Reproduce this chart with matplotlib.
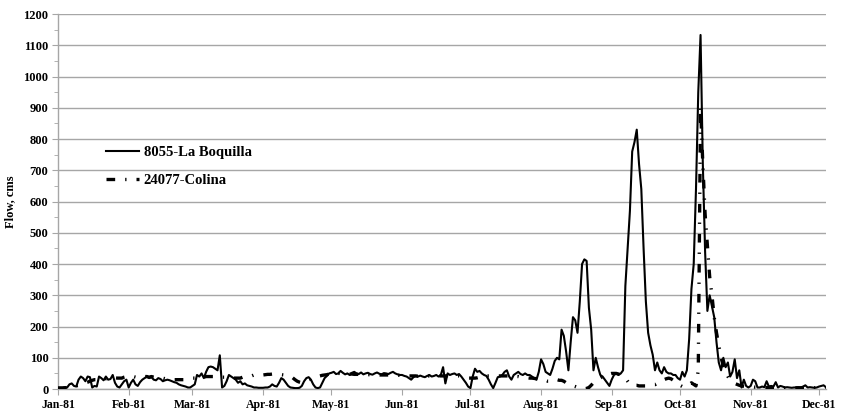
import numpy as np
import pandas as pd
import matplotlib
matplotlib.use('Agg')
import matplotlib.pyplot as plt
import matplotlib.dates as mdates
from matplotlib.ticker import MultipleLocator

# Caudal diario 1981 (cms), 1 ene - 4 dic
boquilla_jan = [5, 5, 5, 6, 5, 15, 18, 10, 8, 30, 40, 35, 25, 40, 38, 5, 10, 8, 40, 35,
                28, 40, 30, 32, 45, 20, 8, 5, 15, 25, 30]
boquilla_feb = [5, 20, 30, 15, 10, 22, 30, 35, 40, 35, 38, 30, 28, 35, 32, 25, 28, 30, 28, 25,
                22, 20, 15, 12, 10, 8, 5, 5]
boquilla_mar = [10, 15, 45, 40, 50, 35, 55, 70, 72, 70, 65, 60, 108, 5, 10, 25, 45, 40, 35, 30,
                20, 25, 15, 18, 12, 10, 8, 5, 5, 4, 4]
boquilla_apr = [4, 5, 5, 8, 15, 10, 8, 20, 35, 30, 20, 10, 5, 4, 3, 3, 4, 10, 25, 35,
                38, 30, 15, 5, 3, 5, 20, 35, 42, 50]
boquilla_may = [52, 55, 48, 50, 58, 52, 47, 50, 45, 52, 55, 50, 48, 53, 47, 50, 52, 48, 46, 50,
                53, 49, 47, 51, 50, 48, 52, 55, 50, 47, 45]
boquilla_jun = [45, 42, 40, 35, 30, 38, 42, 40, 43, 40, 38, 42, 45, 40, 42, 45, 40, 45, 70, 18,
                50, 45, 48, 50, 45, 48, 40, 30, 20, 8]
boquilla_jul = [3, 40, 65, 55, 58, 50, 45, 42, 30, 15, 3, 20, 38, 40, 45, 55, 60, 40, 30, 45,
                50, 55, 48, 45, 50, 45, 45, 40, 35, 30, 55]
boquilla_aug = [95, 80, 55, 50, 45, 65, 90, 100, 95, 190, 170, 120, 60, 150, 230, 220, 180, 280, 400, 415,
                410, 260, 190, 60, 100, 70, 45, 40, 30, 20, 10]
boquilla_sep = [30, 45, 50, 45, 50, 60, 330, 450, 570, 760, 790, 830, 720, 640, 450, 280, 180, 140, 110, 60,
                85, 60, 50, 70, 55, 50, 50, 45, 45, 35]
boquilla_oct = [30, 55, 40, 60, 160, 320, 400, 640, 950, 1133, 720, 440, 250, 300, 265, 230, 150, 85, 60, 100,
                70, 85, 40, 55, 95, 35, 60, 5, 30, 10, 5]
boquilla_nov = [10, 30, 25, 5, 5, 8, 6, 25, 8, 10, 8, 22, 5, 10, 8, 5, 6, 5, 4, 5,
                5, 6, 5, 8, 12, 5, 6, 5, 4, 5]
boquilla_dec = [8, 10, 12, 6]

colina_jan = [3, 3, 3, 4, 5, 5, 6, 8, 10, 12, 15, 18, 20, 22, 25, 28, 30, 30, 32, 35,
              35, 33, 35, 38, 38, 36, 35, 35, 35, 38, 40]
colina_feb = [40, 42, 40, 38, 40, 42, 42, 40, 40, 38, 40, 38, 36, 35, 35, 35, 33, 32, 32, 30,
              30, 30, 30, 30, 30, 30, 32, 33]
colina_mar = [35, 35, 35, 35, 38, 38, 40, 40, 40, 40, 38, 38, 38, 38, 38, 38, 38, 35, 35, 35,
              35, 35, 38, 40, 40, 42, 42, 45, 45, 45, 45]
colina_apr = [45, 46, 47, 47, 48, 48, 48, 47, 46, 45, 44, 42, 40, 36, 30, 25, 22, 20, 22, 25,
              30, 32, 35, 38, 40, 42, 44, 45, 46, 48]
colina_may = [48, 48, 50, 50, 50, 50, 50, 48, 48, 48, 47, 47, 47, 47, 47, 46, 46, 46, 46, 46,
              46, 45, 45, 45, 45, 45, 45, 44, 44, 44, 44]
colina_jun = [44, 43, 43, 42, 42, 42, 42, 41, 41, 41, 42, 42, 42, 42, 42, 42, 42, 42, 42, 42,
              43, 43, 43, 43, 42, 42, 40, 38, 36, 35]
colina_jul = [35, 35, 35, 36, 38, 40, 42, 42, 42, 42, 42, 42, 42, 42, 42, 42, 42, 42, 40, 40,
              40, 40, 38, 38, 38, 36, 35, 35, 34, 33, 32]
colina_aug = [30, 30, 28, 25, 25, 30, 30, 30, 28, 28, 25, 20, 18, 14, 10, 8, 5, 3, 2, 1,
              2, 5, 12, 20, 25, 30, 35, 40, 42, 45, 48]
colina_sep = [50, 50, 50, 48, 45, 40, 35, 25, 15, 12, 12, 12, 10, 10, 10, 10, 12, 12, 14, 14,
              18, 22, 28, 30, 33, 35, 33, 28, 22, 18]
colina_oct = [12, 8, 6, 8, 15, 20, 15, 10, 60, 905, 720, 560, 460, 360, 300, 230, 180, 140, 100, 75,
              55, 40, 30, 22, 18, 15, 12, 10, 9, 8, 8]
colina_nov = [7, 7, 6, 6, 6, 5, 5, 5, 5, 5, 5, 5, 5, 5, 4, 4, 4, 4, 4, 4,
              4, 4, 4, 4, 4, 4, 4, 4, 4, 4]
colina_dec = [4, 4, 4, 4]

boquilla = (boquilla_jan + boquilla_feb + boquilla_mar + boquilla_apr + boquilla_may + boquilla_jun +
            boquilla_jul + boquilla_aug + boquilla_sep + boquilla_oct + boquilla_nov + boquilla_dec)
colina = (colina_jan + colina_feb + colina_mar + colina_apr + colina_may + colina_jun +
          colina_jul + colina_aug + colina_sep + colina_oct + colina_nov + colina_dec)

fechas = pd.date_range('1981-01-01', periods=len(boquilla), freq='D')

plt.rcParams['font.family'] = ['Liberation Serif', 'DejaVu Serif']
plt.rcParams['font.weight'] = 'bold'

fig, ax = plt.subplots(figsize=(8.41, 4.13), dpi=100)
fig.subplots_adjust(left=0.069, right=0.982, top=0.966, bottom=0.058)

gris = '#a6a6a6'
ax.plot(fechas, boquilla, color='black', lw=1.5, label='8055-La Boquilla', zorder=3)
ax.plot(fechas, colina, color='black', lw=2.4, linestyle=(0, (2.6, 3.0, 0.4, 3.0)),
        label='24077-Colina', zorder=4)

ax.set_ylim(0, 1200)
ax.set_xlim(fechas[0], fechas[-1])
ax.yaxis.set_major_locator(MultipleLocator(100))
ax.yaxis.set_minor_locator(MultipleLocator(50))
ax.xaxis.set_major_locator(mdates.MonthLocator())
ax.xaxis.set_major_formatter(mdates.DateFormatter('%b-%y'))

ax.grid(axis='y', color=gris, lw=1.0)
ax.set_axisbelow(True)
for s in ['top', 'right']:
    ax.spines[s].set_visible(False)
for s in ['left', 'bottom']:
    ax.spines[s].set_color(gris)
    ax.spines[s].set_linewidth(1.0)

ax.tick_params(axis='both', which='both', color=gris, direction='out')
ax.tick_params(axis='y', which='major', length=4, pad=3, labelsize=9)
ax.tick_params(axis='y', which='minor', length=3)
ax.tick_params(axis='x', which='major', length=4, pad=3, labelsize=8.5)
for lab in ax.get_xticklabels() + ax.get_yticklabels():
    lab.set_fontweight('bold')

ax.set_ylabel('Flow, cms', fontsize=9, fontweight='bold', labelpad=5)

ax.legend(loc='upper left', bbox_to_anchor=(0.062, 0.648), frameon=False,
          prop={'weight': 'bold', 'size': 10.5}, handlelength=2.3, handletextpad=0.3,
          labelspacing=1.0, borderaxespad=0, borderpad=0)

fig.savefig('out.png', dpi=100)
